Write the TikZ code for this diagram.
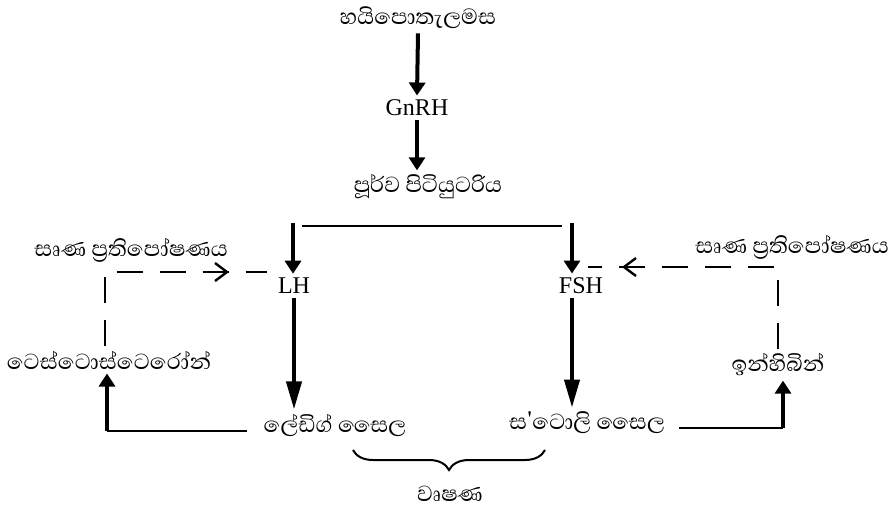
\documentclass[tikz,border=0pt]{standalone}
\usepackage{fontspec}
\setmainfont{Liberation Serif}
\newfontfamily\sinhala[Script=Sinhala]{Abhaya Libre}
\usetikzlibrary{arrows.meta,calc,decorations.markings,decorations.pathreplacing}

\begin{document}
\begin{tikzpicture}[x=0.5pt,y=-0.5pt,
  lat/.style={font=\fontsize{12}{14}\selectfont, inner sep=2pt},
  sin/.style={font=\sinhala\fontsize{14}{16}\selectfont, inner sep=2pt},
  arr/.style={line width=2pt, -{Triangle[width=8pt,length=6.5pt]}},
  longarr/.style={line width=2pt, -{Triangle[width=7.5pt,length=14pt]}},
  link/.style={line width=1.3pt},
  fb/.style={line width=1.2pt, dash pattern=on 13pt off 8.5pt, postaction={decorate}},
  midtip/.style={decoration={markings, mark=at position #1 with {\arrow{Straight Barb[length=6pt,width=9pt]}}}}
]
\useasboundingbox (0,0) rectangle (890,509);

% hormone chain
\node[sin] (hypo) at (418,18) {හයිපොතැලමස};
\node[lat] (gnrh) at (417,108) {GnRH};
\node[sin] (ant) at (428,187) {පූර්ව පිටියුටරිය};
\node[lat] (lh) at (294,286) {LH};
\node[lat] (fsh) at (581,286) {FSH};
\node[sin] (leydig) at (335,425) {ලේඩිග් සෛල};
\node[sin] (sertoli) at (587,423) {ස'ටොලි සෛල};
\node[sin] (testo) at (109,360) {ටෙස්ටොස්ටෙරෝන්};
\node[sin] (inhib) at (778,365) {ඉන්හිබින්};
\node[sin] (fbl) at (131,250) {සෘණ ප්‍රතිපෝෂණය};
\node[sin] (fbr) at (792,247) {සෘණ ප්‍රතිපෝෂණය};
\node[sin] (testes) at (450,494) {වෘෂණ};

\coordinate (barL) at (302,226);
\coordinate (barR) at (562,226);
\coordinate (lhin) at (293,223);
\coordinate (fshin) at (572,223);
\coordinate (fshout) at ($(fsh.south)+(-9,0)$);
\coordinate (lcorner) at (107,431);
\coordinate (rcorner) at (783,428);
\coordinate (lhfb) at (267,272);
\coordinate (fshfb) at (588,267);

\draw[arr] (hypo.south) -- (gnrh.north);
\draw[arr] (gnrh.south) -- (gnrh.south |- ant.north);
\draw[link] (barL) -- (barR);
\draw[arr] (lhin) -- (lhin |- lh.north);
\draw[arr] (fshin) -- (fshin |- fsh.north);
\draw[longarr] (lh.south) -- (lh.south |- leydig.north);
\draw[longarr] (fshout) -- (fshout |- sertoli.north);

% products back up to the hormones
\draw[link, shorten <=6pt] ([yshift=-3pt]leydig.west) -- (lcorner);
\draw[arr] (lcorner) -- (lcorner |- testo.south);
\draw[link, shorten <=5pt] ([yshift=-2.5pt]sertoli.east) -- (rcorner);
\draw[arr] (rcorner) -- (rcorner |- inhib.south);

% negative feedback
\draw[fb, midtip=-19pt] ($(testo.north)+(-4,0)$) |- (lhfb);
\draw[fb, midtip=-17pt] (inhib.north) |- (fshfb);

\draw[line width=1pt, decorate, decoration={brace, mirror, amplitude=10pt}] (353,450) -- (545,450);
\end{tikzpicture}
\end{document}
